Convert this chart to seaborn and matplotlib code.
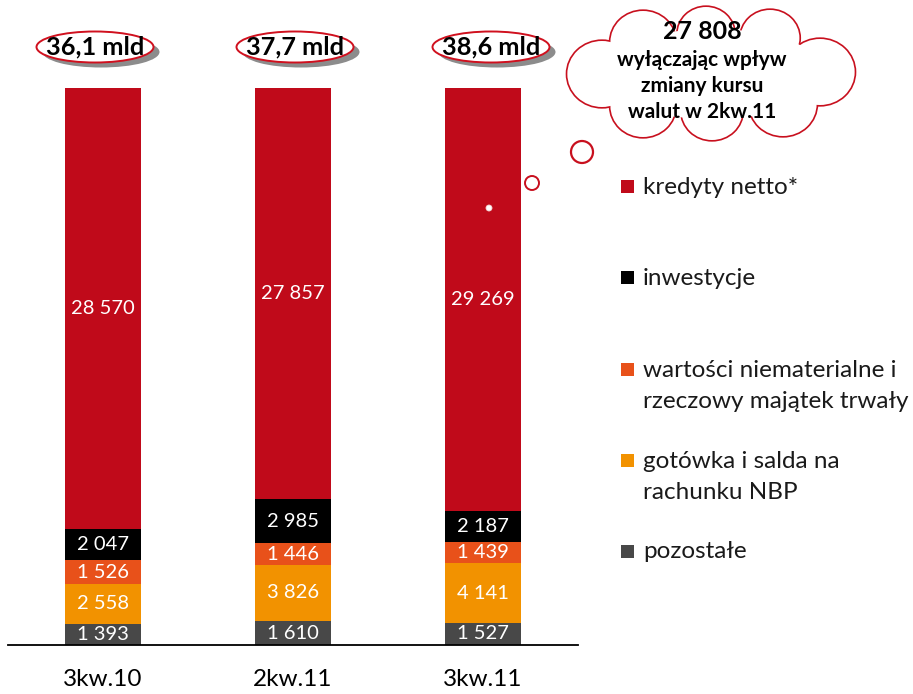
import matplotlib
matplotlib.use("Agg")
import matplotlib.pyplot as plt
from matplotlib.patches import Ellipse, Circle, Rectangle
import numpy as np
import pandas as pd
import seaborn as sns

# --- data (mln PLN) ---
quarters = ["3kw.10", "2kw.11", "3kw.11"]
kredyty = [28570, 27857, 29269]
inwestycje = [2047, 2985, 2187]
wartosci = [1526, 1446, 1439]
gotowka = [2558, 3826, 4141]
pozostale = [1393, 1610, 1527]
totals_label = ["36,1 mld", "37,7 mld", "38,6 mld"]
cloud_value = "27 808"
cloud_text = ["wyłączając wpływ", "zmiany kursu", "walut w 2kw.11"]

# bottom -> top stacking order
series_names = ["pozostałe", "gotówka i salda na\nrachunku NBP",
                "wartości niematerialne i\nrzeczowy majątek trwały",
                "inwestycje", "kredyty netto*"]
series_vals = [pozostale, gotowka, wartosci, inwestycje, kredyty]
series_cols = ["#484848", "#F29200", "#E8511A", "#000000", "#C00A1A"]

sns.set_theme(style="white")
plt.rcParams["font.family"] = ["Lato", "DejaVu Sans"]

fig = plt.figure(figsize=(9.13, 6.94), dpi=100)
W, H = 913, 694
ax = fig.add_axes([8 / W, 49 / H, 570 / W, 557 / H])

vals = np.array(series_vals, dtype=float)
tot = vals.sum(axis=0)
pct = vals / tot * 100.0
cum = np.cumsum(pct, axis=0)

# 100% stacked bars: draw cumulative shares from the top layer down
for i in range(len(series_names) - 1, -1, -1):
    df = pd.DataFrame({"kw": quarters, "v": cum[i]})
    sns.barplot(data=df, x="kw", y="v", color=series_cols[i], saturation=1,
                width=0.4, linewidth=0, ax=ax, order=quarters)

# value labels inside segments
for i in range(len(series_names)):
    for j in range(len(quarters)):
        mid = cum[i, j] - pct[i, j] / 2
        txt = f"{int(series_vals[i][j]):,}".replace(",", " ")
        ax.text(j, mid, txt, ha="center", va="center", color="white",
                fontsize=14.5)

ax.set_xlim(-0.5, 2.5)
ax.set_ylim(0, 100)
ax.set_xlabel("")
ax.set_ylabel("")
ax.set_yticks([])
for s in ["top", "right", "left"]:
    ax.spines[s].set_visible(False)
ax.spines["bottom"].set_color("black")
ax.spines["bottom"].set_linewidth(1.3)
ax.tick_params(axis="x", length=0, pad=17, labelsize=17.5, labelcolor="black")

# overlay in pixel coordinates for decorations
ov = fig.add_axes([0, 0, 1, 1])
ov.set_xlim(0, W)
ov.set_ylim(H, 0)
ov.axis("off")

# total ovals above bars
oval_x = [95, 295, 491]
for x, lab in zip(oval_x, totals_label):
    ov.add_patch(Ellipse((x + 6, 52), 117, 31, facecolor="#8c8c8c",
                         edgecolor="none", zorder=2))
    ov.add_patch(Ellipse((x, 47), 117, 31, facecolor="white",
                         edgecolor="#D0101E", lw=1.4, zorder=3))
    ov.text(x, 47, lab, ha="center", va="center", fontsize=18.3,
            fontweight="bold", color="black", zorder=4)

# thought cloud
bumps = [(602, 74, 33), (643, 42, 31), (706, 34, 27), (770, 38, 28),
         (820, 72, 33), (783, 104, 32), (712, 111, 29), (643, 106, 31)]
for (cx, cy, r) in bumps:
    ov.add_patch(Ellipse((cx, cy), 2 * r * 1.05, 2 * r, facecolor="white",
                         edgecolor="#C8101E", lw=2.4, zorder=5))
for (cx, cy, r) in bumps:
    ov.add_patch(Ellipse((cx, cy), 2 * r * 1.05, 2 * r, facecolor="white",
                         edgecolor="none", zorder=6))
ov.add_patch(Ellipse((712, 74), 230, 90, facecolor="white", edgecolor="none",
                     zorder=6))
ov.add_patch(Circle((582, 152), 11, facecolor="white", edgecolor="#C8101E",
                    lw=1.6, zorder=5))
ov.add_patch(Circle((532, 183), 7, facecolor="white", edgecolor="#C8101E",
                    lw=1.4, zorder=5))
ov.add_patch(Circle((489, 208), 3, facecolor="white", edgecolor="#f3d0d0",
                    lw=0.6, zorder=5))
ov.text(702, 31, cloud_value, ha="center", va="center", fontsize=18,
        fontweight="bold", color="black", zorder=7)
for k, line in enumerate(cloud_text):
    ov.text(702, 60 + k * 26, line, ha="center", va="center", fontsize=15,
            fontweight="bold", color="black", zorder=7)

# legend (top -> bottom)
leg_rows = [(4, 187), (3, 278), (2, 370), (1, 461), (0, 552)]
for idx, y in leg_rows:
    ov.add_patch(Rectangle((621, y - 7), 13, 13, facecolor=series_cols[idx],
                           edgecolor="none", zorder=5))
    lines = series_names[idx].split("\n")
    for k, line in enumerate(lines):
        ov.text(643, y + k * 31, line, ha="left", va="center", fontsize=17.5,
                color="#1a1a1a", zorder=5)

fig.savefig("out.png", dpi=100)
